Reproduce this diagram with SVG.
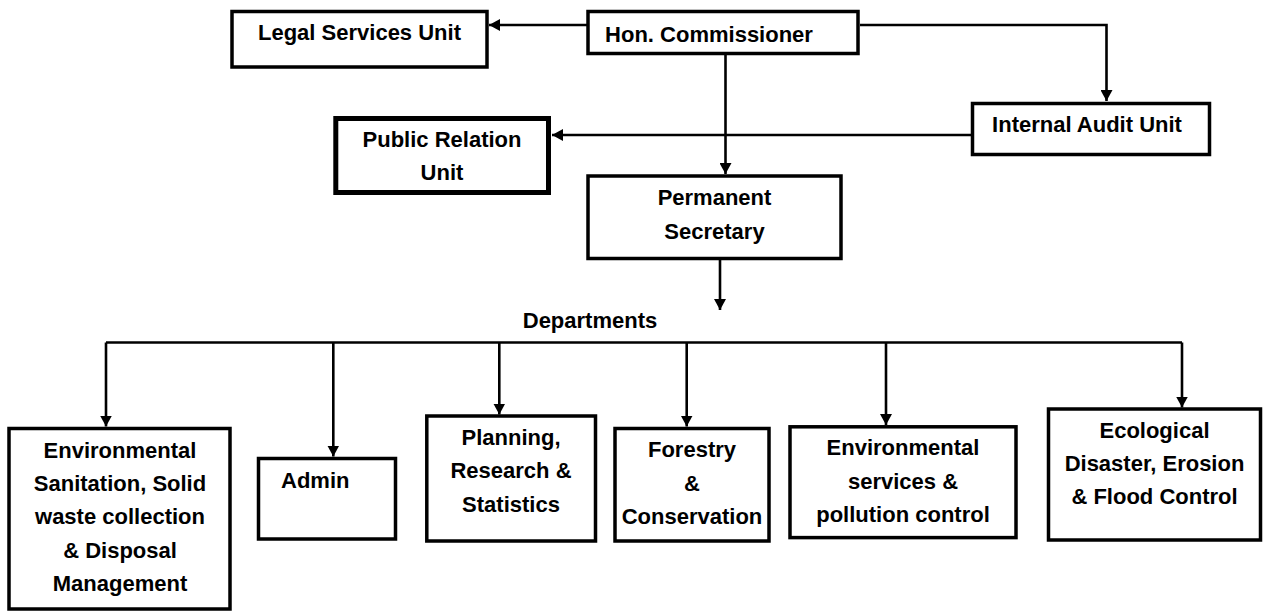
<svg xmlns="http://www.w3.org/2000/svg" width="1263" height="611" viewBox="0 0 1263 611">
<style>
.box{fill:#fff;stroke:#000;stroke-width:3.5}
.thick{stroke-width:5}
.lbl{font-family:"Liberation Sans",Arial,sans-serif;font-weight:bold;font-size:22px;fill:#000}
.c{text-anchor:middle}
.con{fill:none;stroke:#000;stroke-width:2.6}
</style>
<defs>
<marker id="ah" markerUnits="userSpaceOnUse" markerWidth="12" markerHeight="12" refX="11" refY="6" orient="auto" viewBox="0 0 12 12">
<path d="M0,0 L11,6 L0,12 z" fill="#000"/>
</marker>
</defs>
<rect width="1263" height="611" fill="#fff"/>
<g id="connectors">
<path class="con" d="M588,25 H489" marker-end="url(#ah)"/>
<path class="con" d="M860,25 H1106.5 V101" marker-end="url(#ah)"/>
<path class="con" d="M725.5,55 V174" marker-end="url(#ah)"/>
<path class="con" d="M971,135 H552" marker-end="url(#ah)"/>
<path class="con" d="M720,260 V310" marker-end="url(#ah)"/>
<path class="con" d="M106,342.5 H1182"/>
<path class="con" d="M106,342.5 V426.5" marker-end="url(#ah)"/>
<path class="con" d="M333.3,342.5 V456.5" marker-end="url(#ah)"/>
<path class="con" d="M499.3,342.5 V414.5" marker-end="url(#ah)"/>
<path class="con" d="M686.7,342.5 V426.5" marker-end="url(#ah)"/>
<path class="con" d="M886,342.5 V425" marker-end="url(#ah)"/>
<path class="con" d="M1182,342.5 V407.5" marker-end="url(#ah)"/>
</g>
<g id="legal">
<rect class="box" x="232" y="11.5" width="255" height="55.5"/>
<text class="lbl c" x="359.5" y="40">Legal Services Unit</text>
</g>
<g id="commissioner">
<rect class="box" x="588" y="11.5" width="270" height="42"/>
<text class="lbl c" x="709" y="41.5">Hon. Commissioner</text>
</g>
<g id="audit">
<rect class="box" x="972.5" y="103.5" width="237" height="51"/>
<text class="lbl c" x="1087" y="131.7">Internal Audit Unit</text>
</g>
<g id="public-relation">
<rect class="box thick" x="335.8" y="118.5" width="212.7" height="74"/>
<text class="lbl c" x="442" y="146.7">Public Relation</text>
<text class="lbl c" x="442" y="180">Unit</text>
</g>
<g id="perm-sec">
<rect class="box" x="588" y="176" width="253" height="82.5"/>
<text class="lbl c" x="714.5" y="205">Permanent</text>
<text class="lbl c" x="714.5" y="239">Secretary</text>
</g>
<g id="departments">
<text class="lbl c" x="590" y="328">Departments</text>
</g>
<g id="env-sanitation">
<rect class="box" x="9" y="428.5" width="221" height="180.5"/>
<text class="lbl c" x="120" y="457.7">Environmental</text>
<text class="lbl c" x="120" y="491">Sanitation, Solid</text>
<text class="lbl c" x="120" y="524.3">waste collection</text>
<text class="lbl c" x="120" y="557.7">&amp; Disposal</text>
<text class="lbl c" x="120" y="591">Management</text>
</g>
<g id="admin">
<rect class="box" x="258.5" y="458.5" width="137" height="80.5"/>
<text class="lbl" x="281" y="488">Admin</text>
</g>
<g id="planning">
<rect class="box" x="426.8" y="416" width="168.7" height="125"/>
<text class="lbl c" x="511" y="445">Planning,</text>
<text class="lbl c" x="511" y="478.3">Research &amp;</text>
<text class="lbl c" x="511" y="511.7">Statistics</text>
</g>
<g id="forestry">
<rect class="box" x="615" y="428.5" width="154" height="112.5"/>
<text class="lbl c" x="692" y="457.3">Forestry</text>
<text class="lbl c" x="692" y="490.7">&amp;</text>
<text class="lbl c" x="692" y="524">Conservation</text>
</g>
<g id="env-services">
<rect class="box" x="790" y="426.8" width="226" height="110.8"/>
<text class="lbl c" x="903" y="455">Environmental</text>
<text class="lbl c" x="903" y="488.7">services &amp;</text>
<text class="lbl c" x="903" y="522">pollution control</text>
</g>
<g id="ecological">
<rect class="box" x="1048.5" y="409" width="212" height="131"/>
<text class="lbl c" x="1154.5" y="437.5">Ecological</text>
<text class="lbl c" x="1154.5" y="470.8">Disaster, Erosion</text>
<text class="lbl c" x="1154.5" y="504">&amp; Flood Control</text>
</g>
</svg>
